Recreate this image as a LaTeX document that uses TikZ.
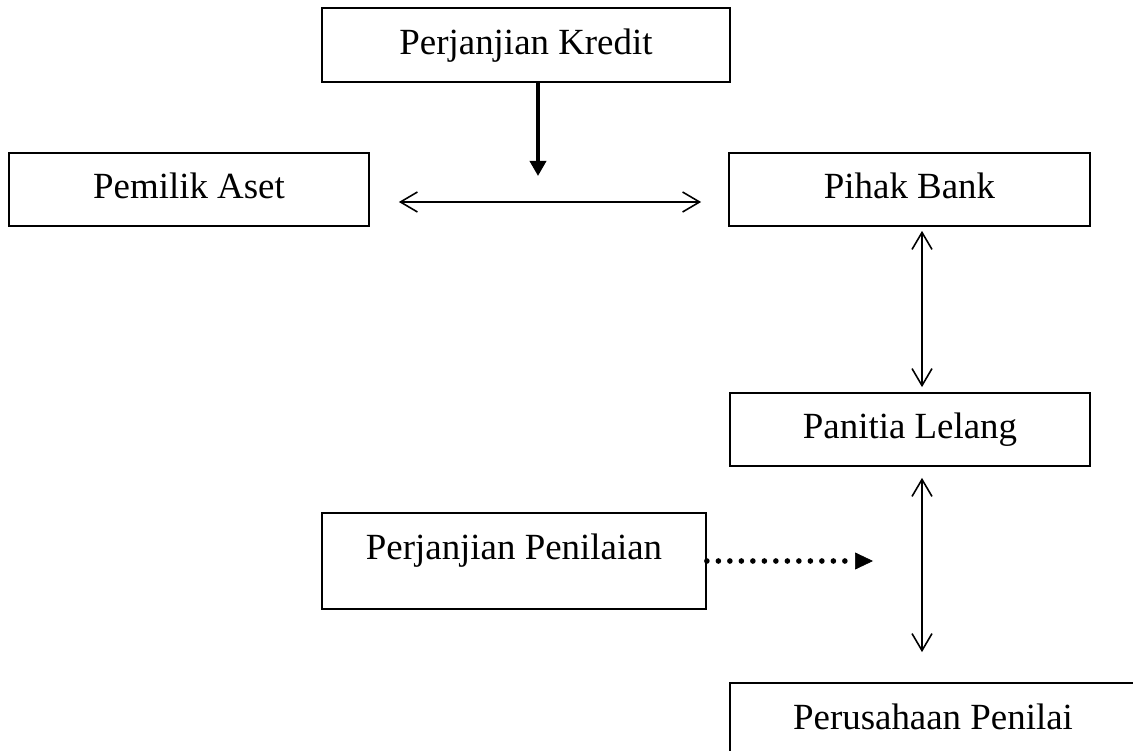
\documentclass[tikz,border=0pt]{standalone}
\usepackage{fontspec}
\setmainfont{Liberation Serif}
\usepackage{tikz}
\usetikzlibrary{arrows.meta}

\begin{document}
\begin{tikzpicture}[
	box/.style={draw, line width=1pt, inner sep=0pt, text height=0.6cm, text depth=0.22cm,
		font=\fontsize{21}{25}\selectfont},
	dbl/.style={line width=0.9pt, {Straight Barb[length=0.34cm,width=0.4cm]}-{Straight Barb[length=0.34cm,width=0.4cm]}},
	thickarr/.style={line width=2pt, -{Triangle[length=0.3cm,width=0.32cm]}},
	dotarr/.style={line width=3.2pt, line cap=round, dash pattern=on 0pt off 0.23cm,
		-{Triangle[length=0.36cm,width=0.34cm,line width=0.4pt]}}
]
	\clip (0,0) rectangle (22.66,-15.02);

	% boxes
	\node[box, minimum width=8.16cm, minimum height=1.48cm] (kredit) at (10.52,-0.90) {Perjanjian Kredit};
	\node[box, minimum width=7.2cm, minimum height=1.46cm] (pemilik) at (3.78,-3.79) {Pemilik Aset};
	\node[box, minimum width=7.22cm, minimum height=1.46cm] (bank) at (18.19,-3.79) {Pihak Bank};
	\node[box, minimum width=7.2cm, minimum height=1.46cm] (panitia) at (18.2,-8.59) {Panitia Lelang};
	\node[box, minimum width=7.68cm, minimum height=1.92cm, text depth=0.68cm] (penilaian) at (10.28,-11.22) {Perjanjian Penilaian};
	\node[box, minimum width=8.12cm, minimum height=1.46cm] (perusahaan) at (18.66,-14.39) {Perusahaan Penilai};

	% free ends
	\coordinate (kd) at (10.76,-3.52);
	\coordinate (pd) at (17.46,-11.22);

	\draw[thickarr] (kredit.south -| kd) -- (kd);
	\draw[dbl] ([shift={(0.58,-0.25)}]pemilik.east) -- ([shift={(-0.54,-0.25)}]bank.west);
	\draw[dbl, shorten <=0.08cm, shorten >=0.1cm] ([xshift=0.25cm]bank.south) -- ([xshift=0.24cm]panitia.north);
	\draw[dbl, shorten <=0.22cm, shorten >=0.6cm] ([xshift=0.24cm]panitia.south) -- ([xshift=-0.22cm]perusahaan.north);
	\draw[dotarr] (penilaian.east) -- (pd);
\end{tikzpicture}
\end{document}
